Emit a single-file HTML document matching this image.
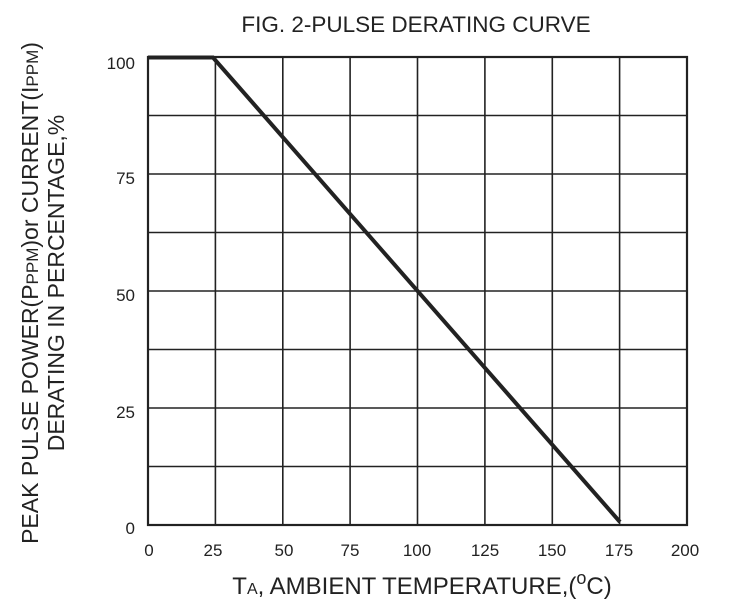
<!DOCTYPE html>
<html><head><style>
html,body{margin:0;padding:0;background:#fff;}
svg{display:block;font-family:"Liberation Sans",Arial,sans-serif;}
</style></head><body>
<svg width="732" height="612" viewBox="0 0 732 612" xmlns="http://www.w3.org/2000/svg">
<rect width="732" height="612" fill="#fff"/>
<text x="416" y="32" font-size="22.5" text-anchor="middle" fill="#222">FIG. 2-PULSE DERATING CURVE</text>
<g stroke="#222" stroke-width="1.6" fill="none">
<line x1="215.4" y1="57" x2="215.4" y2="525"/>
<line x1="282.8" y1="57" x2="282.8" y2="525"/>
<line x1="350.1" y1="57" x2="350.1" y2="525"/>
<line x1="417.5" y1="57" x2="417.5" y2="525"/>
<line x1="484.9" y1="57" x2="484.9" y2="525"/>
<line x1="552.3" y1="57" x2="552.3" y2="525"/>
<line x1="619.6" y1="57" x2="619.6" y2="525"/>
<line x1="148" y1="115.5" x2="687" y2="115.5"/>
<line x1="148" y1="174" x2="687" y2="174"/>
<line x1="148" y1="232.5" x2="687" y2="232.5"/>
<line x1="148" y1="291" x2="687" y2="291"/>
<line x1="148" y1="349.5" x2="687" y2="349.5"/>
<line x1="148" y1="408" x2="687" y2="408"/>
<line x1="148" y1="466.5" x2="687" y2="466.5"/>
<rect x="148" y="57" width="539" height="468" stroke-width="2.2"/>
</g>
<polyline points="148,57.5 213,57.5 620,522" stroke="#222" stroke-width="4" fill="none"/>
<g font-size="17" fill="#222" text-anchor="end">
<text x="135" y="69">100</text>
<text x="135" y="184">75</text>
<text x="135" y="301">50</text>
<text x="135" y="418">25</text>
<text x="135" y="534">0</text>
</g>
<g font-size="17" fill="#222" text-anchor="middle">
<text x="149" y="556">0</text>
<text x="213" y="556">25</text>
<text x="284" y="556">50</text>
<text x="350" y="556">75</text>
<text x="417" y="556">100</text>
<text x="485" y="556">125</text>
<text x="552" y="556">150</text>
<text x="619" y="556">175</text>
<text x="685" y="556">200</text>
</g>
<text x="422" y="594" font-size="24" text-anchor="middle" fill="#222">T<tspan font-size="16">A</tspan>, AMBIENT TEMPERATURE,(<tspan font-size="18" dy="-10">o</tspan><tspan dy="10">C)</tspan></text>
<g font-size="23" fill="#222" text-anchor="middle">
<text transform="translate(38,293) rotate(-90)">PEAK PULSE POWER(P<tspan font-size="17">PPM</tspan>)or CURRENT(I<tspan font-size="17">PPM</tspan>)</text>
<text transform="translate(64,283) rotate(-90)">DERATING IN PERCENTAGE,%</text>
</g>
</svg>
</body></html>
